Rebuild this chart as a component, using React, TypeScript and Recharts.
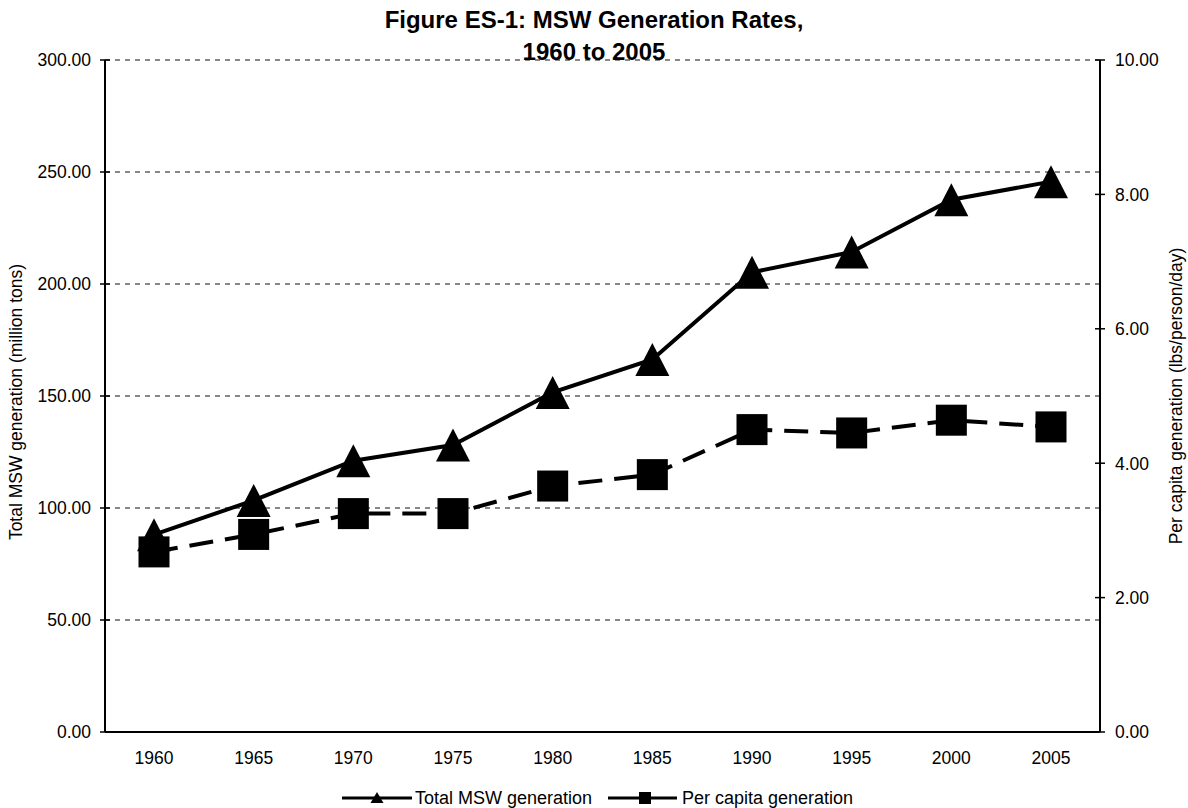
import React from 'react';
import { LineChart, Line, XAxis, YAxis, CartesianGrid } from 'recharts';

const years = ['1960', '1965', '1970', '1975', '1980', '1985', '1990', '1995', '2000', '2005'];
const totalMsw = [88.1, 103.4, 121.1, 128.1, 151.6, 166.3, 205.2, 214.3, 237.6, 245.7];
const perCapita = [2.68, 2.94, 3.25, 3.25, 3.66, 3.83, 4.5, 4.45, 4.64, 4.54];
const leftTicks = [0, 50, 100, 150, 200, 250, 300];
const rightTicks = [0, 2, 4, 6, 8, 10];

const data = years.map((year, i) => ({ year, total: totalMsw[i], perCapita: perCapita[i] }));

const FONT = '"Liberation Sans", Arial, sans-serif';

const LeftTick = (props: any) => {
  const { x, y, payload } = props;
  return (
    <g>
      <line x1={x - 5} x2={x + 5} y1={y} y2={y} stroke="#000" strokeWidth={1.5} />
      <text x={x - 14} y={y} dy="0.36em" textAnchor="end" fontSize={17.5} fontFamily={FONT} fill="#000">
        {Number(payload.value).toFixed(2)}
      </text>
    </g>
  );
};

const RightTick = (props: any) => {
  const { x, y, payload } = props;
  return (
    <g>
      <line x1={x - 5} x2={x + 5} y1={y} y2={y} stroke="#000" strokeWidth={1.5} />
      <text x={x + 15} y={y} dy="0.36em" textAnchor="start" fontSize={17.5} fontFamily={FONT} fill="#000">
        {Number(payload.value).toFixed(2)}
      </text>
    </g>
  );
};

// Excel-style big markers
const TriangleDot = (props: any) => {
  const { cx, cy, index } = props;
  if (cx == null || cy == null) return <g key={index} />;
  return (
    <path
      key={index}
      d={`M${cx},${cy - 16.5} L${cx + 17},${cy + 16.5} L${cx - 17},${cy + 16.5} Z`}
      fill="#000"
    />
  );
};

const SquareDot = (props: any) => {
  const { cx, cy, index } = props;
  if (cx == null || cy == null) return <g key={index} />;
  return <rect key={index} x={cx - 15.5} y={cy - 15.5} width={31} height={31} fill="#000" />;
};

export default function App() {
  return (
    <div style={{ position: 'absolute', left: 0, top: 0, width: 1188, height: 808, background: '#fff' }}>
      <LineChart width={1188} height={808} data={data} margin={{ top: 60, right: 0, bottom: 0, left: 0 }}>
        <CartesianGrid yAxisId="left" vertical={false} stroke="#111" strokeDasharray="5 5" />
        <XAxis
          dataKey="year"
          height={76}
          padding={{ left: 49, right: 49 }}
          tickLine={false}
          tickSize={0}
          tickMargin={20}
          axisLine={{ stroke: '#000', strokeWidth: 2 }}
          tick={{ fontSize: 17.5, fontFamily: FONT, fill: '#000' }}
        />
        <YAxis
          yAxisId="left"
          width={105}
          domain={[0, 300]}
          ticks={leftTicks}
          interval={0}
          tickLine={false}
          tickSize={0}
          tickMargin={0}
          axisLine={{ stroke: '#000', strokeWidth: 2 }}
          tick={<LeftTick />}
        />
        <YAxis
          yAxisId="right"
          orientation="right"
          width={88}
          domain={[0, 10]}
          ticks={rightTicks}
          interval={0}
          tickLine={false}
          tickSize={0}
          tickMargin={0}
          axisLine={{ stroke: '#000', strokeWidth: 2 }}
          tick={<RightTick />}
        />
        <Line
          yAxisId="left"
          dataKey="total"
          stroke="#000"
          strokeWidth={4}
          dot={<TriangleDot />}
          activeDot={false}
          isAnimationActive={false}
        />
        <Line
          yAxisId="right"
          dataKey="perCapita"
          stroke="#000"
          strokeWidth={4}
          strokeDasharray="24 12"
          dot={<SquareDot />}
          activeDot={false}
          isAnimationActive={false}
        />
      </LineChart>
      <svg
        width={1188}
        height={808}
        style={{ position: 'absolute', left: 0, top: 0, pointerEvents: 'none' }}
      >
        <text x={594} y={28} textAnchor="middle" fontSize={24} fontWeight="bold" fontFamily={FONT} fill="#000">
          Figure ES-1: MSW Generation Rates,
        </text>
        <text x={594} y={60} textAnchor="middle" fontSize={24} fontWeight="bold" fontFamily={FONT} fill="#000">
          1960 to 2005
        </text>
        <text
          transform="translate(22,402) rotate(-90)"
          textAnchor="middle"
          fontSize={17.5}
          fontFamily={FONT}
          fill="#000"
        >
          Total MSW generation (million tons)
        </text>
        <text
          transform="translate(1182,396) rotate(-90)"
          textAnchor="middle"
          fontSize={17.5}
          fontFamily={FONT}
          fill="#000"
        >
          Per capita generation (lbs/person/day)
        </text>
        <g>
          <line x1={342} x2={412} y1={798} y2={798} stroke="#000" strokeWidth={3} />
          <path d="M377,792 L383.5,803 L370.5,803 Z" fill="#000" />
          <text x={415} y={804} fontSize={18} fontFamily={FONT} fill="#000">
            Total MSW generation
          </text>
          <line x1={608} x2={677} y1={798} y2={798} stroke="#000" strokeWidth={3} />
          <rect x={639} y={792} width={12} height={12} fill="#000" />
          <text x={682} y={804} fontSize={18} fontFamily={FONT} fill="#000">
            Per capita generation
          </text>
        </g>
      </svg>
    </div>
  );
}
